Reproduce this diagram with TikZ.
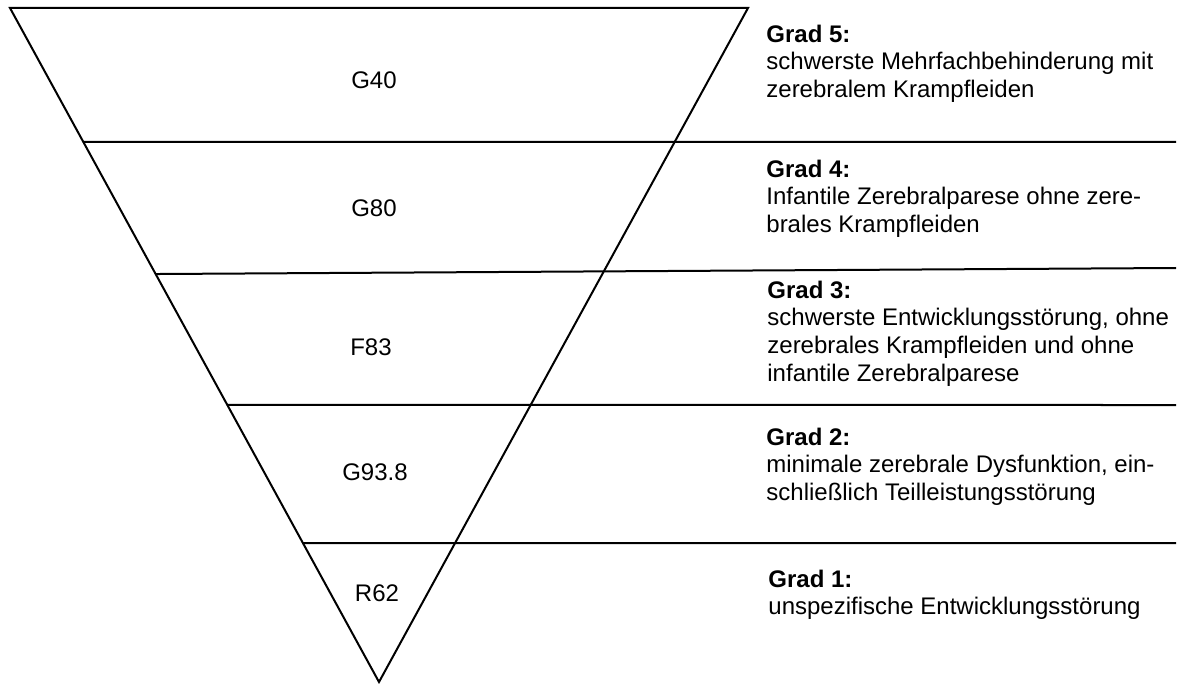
\documentclass[tikz,border=0pt]{standalone}
\usepackage{fontspec}
\setmainfont{Liberation Sans}
\usetikzlibrary{calc}

\begin{document}
\begin{tikzpicture}[
    x=0.5pt, y=-0.5pt,
    outline/.style={line width=1pt, line join=miter},
    code/.style={inner sep=0pt, font=\fontsize{12pt}{13.8pt}\selectfont},
    grade/.style={anchor=north west, inner sep=0pt, align=left, font=\fontsize{12pt}{13.8pt}\selectfont},
]
\useasboundingbox (0,0) rectangle (1178,684);

% Triangle
\coordinate (topleft) at (10,8);
\coordinate (topright) at (748,8);
\coordinate (apex) at (379,682);
\draw [outline] (topleft) -- (topright) -- (apex) -- cycle;

% Dividing lines
\coordinate (cut5) at ($(topleft)!0.1988!(apex)$);
\coordinate (cut4) at ($(topleft)!0.3947!(apex)$);
\coordinate (cut3) at ($(topleft)!0.5890!(apex)$);
\coordinate (cut2) at ($(topleft)!0.7938!(apex)$);
\coordinate (end5) at (1176,142);
\coordinate (end4) at (1176,268);
\coordinate (end3) at (1176,405);
\coordinate (end2) at (1176,543);
\draw [outline] (cut5) -- (end5);
\draw [outline] (cut4) -- (end4);
\draw [outline] (cut3) -- (end3);
\draw [outline] (cut2) -- (end2);

% Codes inside the triangle
\node (g40) [code] at (374,80) {G40};
\node (g80) [code] at (374,208) {G80};
\node (f83) [code] at (371,347) {F83};
\node (g938) [code] at (375,472) {G93.8};
\node (r62) [code] at (377,593) {R62};

% Grades
\node (grad5) [grade] at (766,24.5) {\textbf{Grad 5:}\\schwerste Mehrfachbehinderung mit\\zerebralem Krampfleiden};
\node (grad4) [grade] at (766,159.5) {\textbf{Grad 4:}\\Infantile Zerebralparese ohne zere-\\brales Krampfleiden};
\node (grad3) [grade] at (767,280.5) {\textbf{Grad 3:}\\schwerste Entwicklungsstörung, ohne\\zerebrales Krampfleiden und ohne\\infantile Zerebralparese};
\node (grad2) [grade] at (766,427.5) {\textbf{Grad 2:}\\minimale zerebrale Dysfunktion, ein-\\schließlich Teilleistungsstörung};
\node (grad1) [grade] at (768,569.5) {\textbf{Grad 1:}\\unspezifische Entwicklungsstörung};

\end{tikzpicture}
\end{document}
